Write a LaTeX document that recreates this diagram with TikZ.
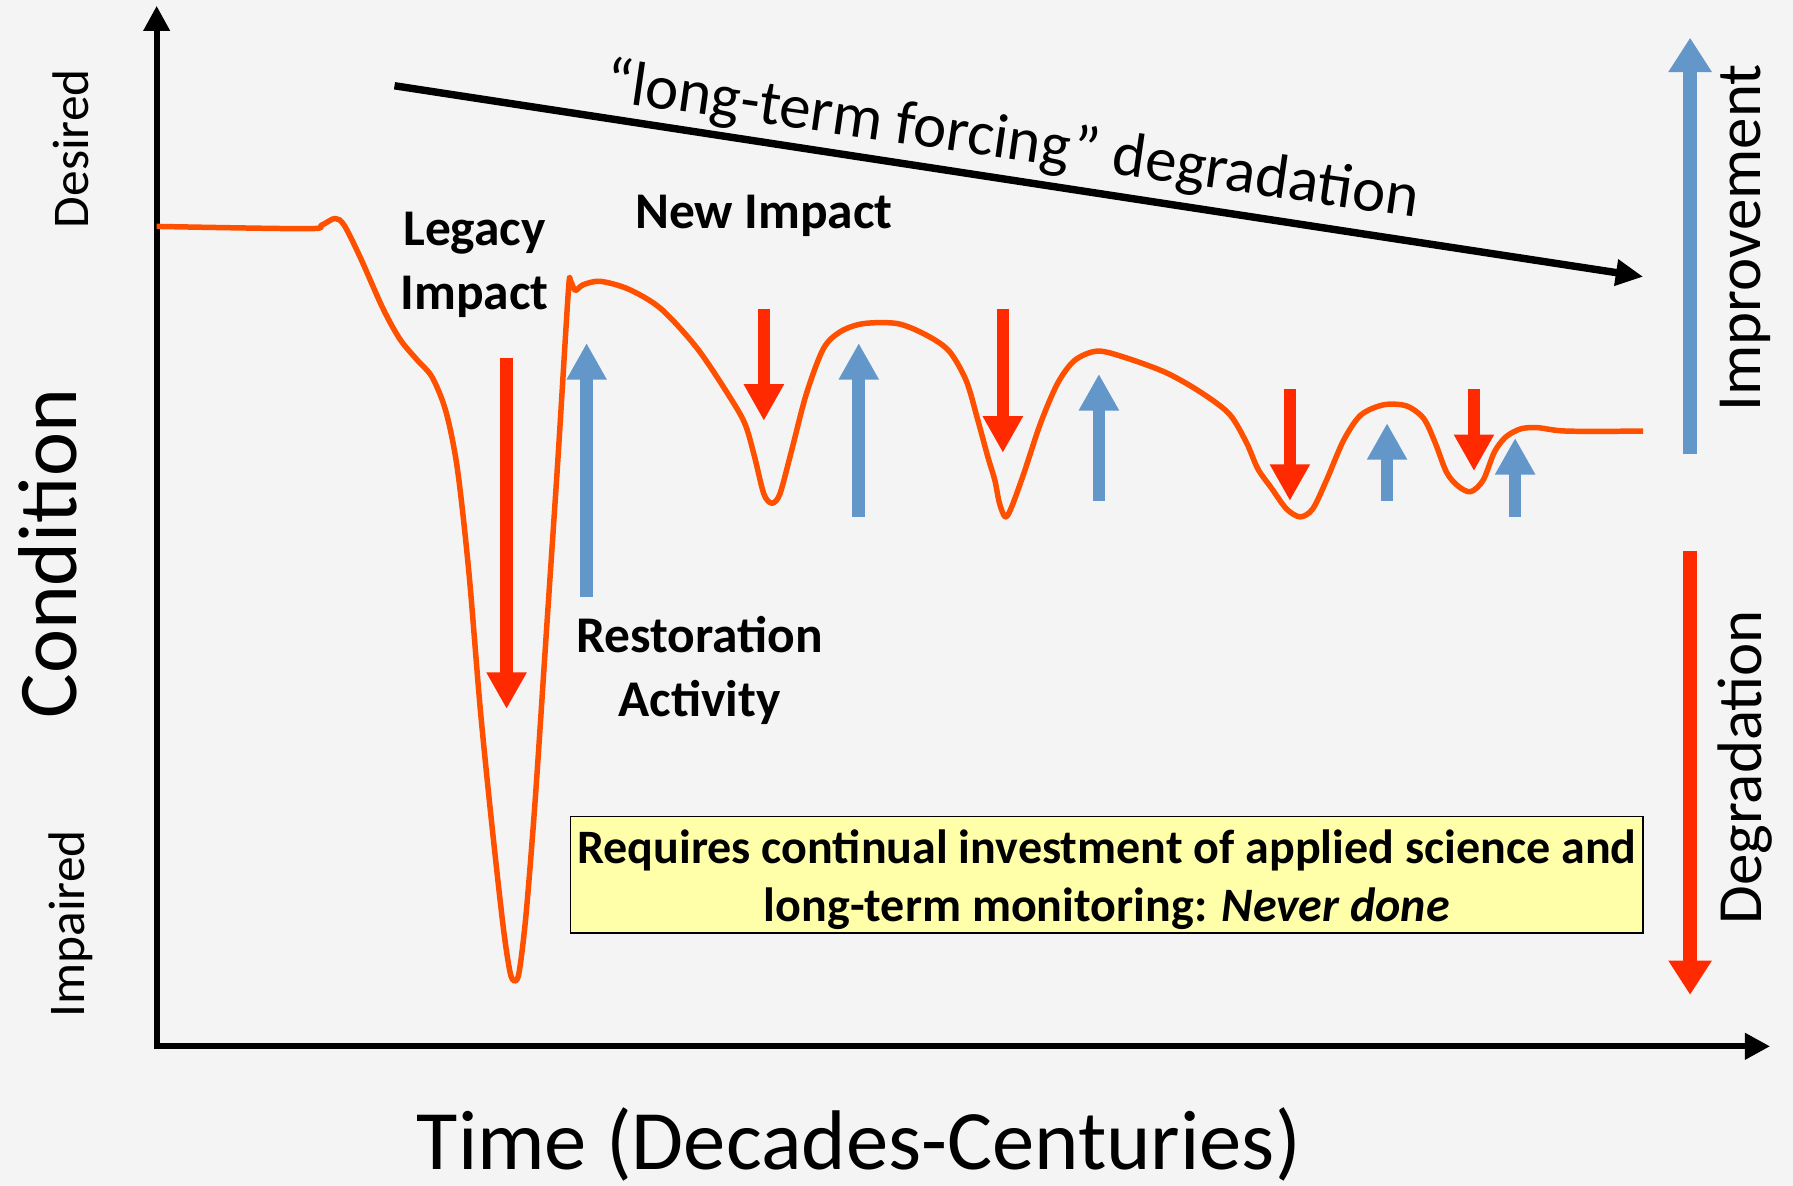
\documentclass[tikz,border=0pt]{standalone}
\usepackage{fontspec}
\setmainfont{Carlito}
\usetikzlibrary{arrows.meta}
\definecolor{bgc}{HTML}{F4F4F4}
\definecolor{curvec}{HTML}{FF5000}
\definecolor{redc}{HTML}{FF2A00}
\definecolor{bluec}{HTML}{6396C9}
\definecolor{boxc}{HTML}{FFFFAA}
\newcommand{\fs}[2]{\fontsize{#1}{#2}\selectfont}
\tikzset{
  axisline/.style={line width=5.5pt, -{Triangle[width=22pt,length=22pt]}},
  downarrow/.style={redc, line width=11pt, -{Triangle[width=33pt,length=32pt]}},
  uparrow/.style={bluec, line width=11pt, -{Triangle[width=33pt,length=32pt]}},
  boldlabel/.style={font=\fs{45}{56}\bfseries, align=center, inner sep=0pt},
  sidelabel/.style={font=\fs{45}{54}, rotate=90, inner sep=0pt},
}
\begin{document}
\begin{tikzpicture}[x=1pt,y=-1pt]
\useasboundingbox (0,0) rectangle (1568,1037);
\fill[bgc] (0,0) rectangle (1568,1037);

% axes
\coordinate (origin) at (137,915);
\coordinate (ytop) at (137,5);
\coordinate (xleft) at (135,915);
\coordinate (xright) at (1548,915);
\draw[axisline] (origin) -- (ytop);
\draw[axisline] (xleft) -- (xright);

% axis labels
\node[sidelabel] (desired) at (62,130) {Desired};
\node[sidelabel] (impaired) at (62,808) {Impaired};
\node[font=\fs{73}{88}, rotate=90, inner sep=0pt] (condition) at (42,484) {Condition};
\node[font=\fs{74}{88}, inner sep=0pt] (time) at (751,1001) {Time (Decades-Centuries)};

% long-term forcing arrow
\coordinate (fstart) at (345,75);
\coordinate (fend) at (1437,242);
\draw[line width=6.5pt, -{Triangle[width=22pt,length=24pt]}] (fstart) -- (fend);
\node[font=\fs{55}{66}, rotate=-8.2, inner sep=0pt] (forcing) at (885,124) {“long-term forcing” degradation};

% condition curve
\draw[curvec, line width=4.8pt, line join=round] plot[smooth, tension=0.5] coordinates {
(137,198) (268,200) (281,197) (293,191) (301,197) (315,225) (335,270) (350,297) (365,315) (378,330)
(390,360) (400,410) (410,500) (420,620) (430,720) (440,810) (446,850) (450,858) (454,850) (460,800)
(468,700) (478,550) (488,400) (497,255) (499,246) (503,254) (510,249) (525,246) (550,253) (578,270)
(610,305) (640,350) (652,372) (660,400) (668,432) (675,440) (682,432) (692,395) (705,345) (720,305)
(735,290) (755,283) (785,283) (810,293) (830,307) (845,333) (855,367) (864,400) (870,420) (874,440)
(879,452) (884,445) (895,415) (910,370) (925,335) (940,315) (960,307) (985,313) (1020,326) (1050,343)
(1075,362) (1090,387) (1100,410) (1112,427) (1125,445) (1137,452) (1148,445) (1160,420) (1175,385)
(1190,363) (1210,354) (1230,355) (1245,366) (1255,387) (1265,413) (1275,425) (1286,430) (1297,420)
(1307,395) (1317,382) (1330,375) (1345,374) (1370,377) (1437,377)};

% red impact arrows
\coordinate (r1a) at (443,313); \coordinate (r1b) at (443,620);
\coordinate (r2a) at (668,270); \coordinate (r2b) at (668,368);
\coordinate (r3a) at (877,270); \coordinate (r3b) at (877,396);
\coordinate (r4a) at (1128,340); \coordinate (r4b) at (1128,438);
\coordinate (r5a) at (1289,340); \coordinate (r5b) at (1289,412);
\draw[downarrow] (r1a) -- (r1b);
\draw[downarrow] (r2a) -- (r2b);
\draw[downarrow] (r3a) -- (r3b);
\draw[downarrow] (r4a) -- (r4b);
\draw[downarrow] (r5a) -- (r5b);

% blue restoration arrows
\coordinate (b1a) at (513,522); \coordinate (b1b) at (513,300);
\coordinate (b2a) at (751,452); \coordinate (b2b) at (751,300);
\coordinate (b3a) at (961,438); \coordinate (b3b) at (961,327);
\coordinate (b4a) at (1213,438); \coordinate (b4b) at (1213,370);
\coordinate (b5a) at (1325,452); \coordinate (b5b) at (1325,383);
\draw[uparrow] (b1a) -- (b1b);
\draw[uparrow] (b2a) -- (b2b);
\draw[uparrow] (b3a) -- (b3b);
\draw[uparrow] (b4a) -- (b4b);
\draw[uparrow] (b5a) -- (b5b);

% labels
\node[boldlabel] (legacy) at (415,232) {Legacy\\Impact};
\node[boldlabel] (newimpact) at (668,189) {New Impact};
\node[boldlabel] (restoration) at (612,586) {Restoration\\Activity};

% note box
\node[draw=black, line width=1.5pt, fill=boxc, minimum width=938pt, minimum height=102pt]
  (note) at (968,765) {};
\node[font=\fs{42}{51}\bfseries, align=center, inner sep=0pt] (notetext) at (968,769)
  {Requires continual investment of applied science and\\long-term monitoring: \textit{Never done}};

% right scale arrows
\coordinate (impA) at (1478,397); \coordinate (impB) at (1478,33);
\coordinate (degA) at (1478,482); \coordinate (degB) at (1478,870);
\draw[bluec, line width=12pt, -{Triangle[width=36pt,length=30pt]}] (impA) -- (impB);
\draw[redc, line width=12pt, -{Triangle[width=36pt,length=30pt]}] (degA) -- (degB);
\node[font=\fs{55}{66}, rotate=90, inner sep=0pt] (improvement) at (1526,208) {Improvement};
\node[font=\fs{55}{66}, rotate=90, inner sep=0pt] (degradation) at (1526,671) {Degradation};
\end{tikzpicture}
\end{document}
